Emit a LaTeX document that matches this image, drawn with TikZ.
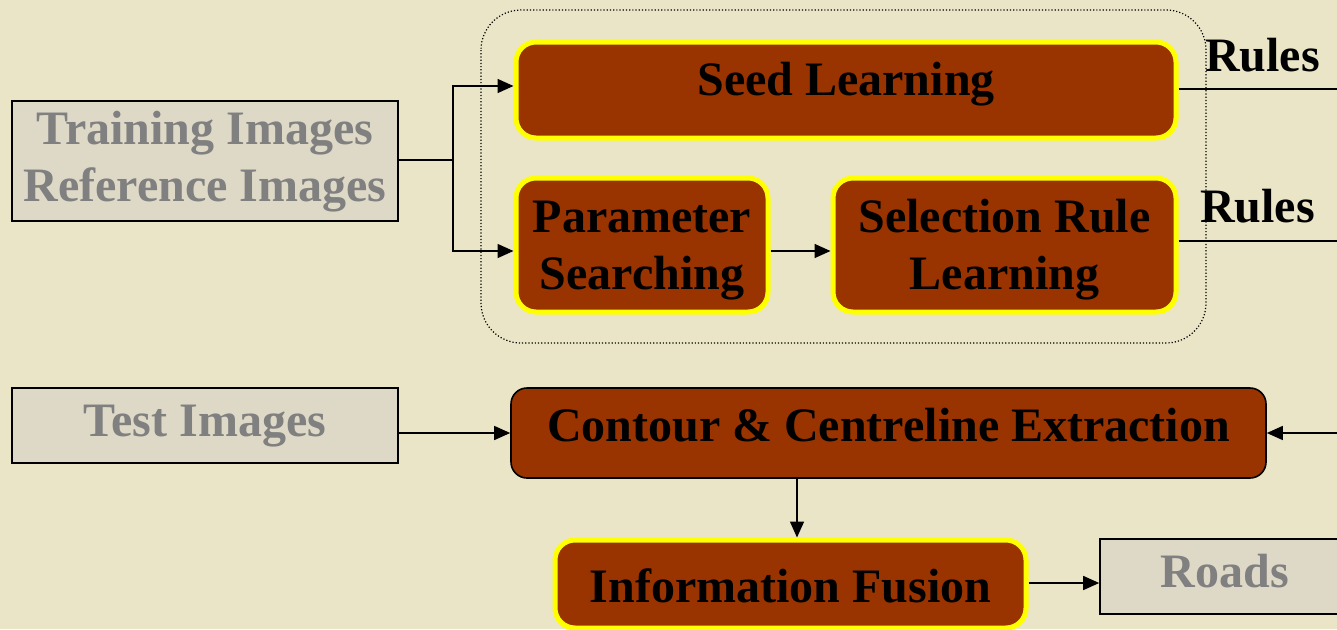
\documentclass[tikz,border=0pt]{standalone}
\usepackage{fontspec}
\setmainfont{Liberation Serif}
\usetikzlibrary{arrows.meta}
\definecolor{paper}{RGB}{234,229,199}
\definecolor{greybox}{RGB}{222,216,198}
\definecolor{greytext}{RGB}{128,128,128}
\definecolor{rust}{RGB}{153,51,0}
\definecolor{hilite}{RGB}{255,255,0}
% invisible struts fixing the first-line height and last-line depth
\newcommand{\tophold}[1]{\rule{0pt}{#1}}
\newcommand{\bothold}[1]{\rule[-#1]{0pt}{#1}}
\begin{document}
\begin{tikzpicture}[x=1pt,y=-1pt,
  txt/.style={font=\fontsize{48}{57}\selectfont\bfseries, align=center},
  inbox/.style={txt, draw=black, line width=1.6pt, fill=greybox, text=greytext, inner sep=0pt},
  hotbox/.style={txt, draw=hilite, line width=5pt, fill=rust, rounded corners=20pt, inner sep=0pt},
  procbox/.style={txt, draw=black, line width=1.6pt, fill=rust, rounded corners=16pt, inner sep=0pt},
  link/.style={draw=black, line width=1.5pt, -{Triangle[length=16pt,width=14pt]}},
  plain/.style={draw=black, line width=1.5pt},
  group/.style={draw=black, line width=1.2pt, dotted, rounded corners=40pt}
]
\fill[paper] (0,0) rectangle (1337,629);
\useasboundingbox (0,0) rectangle (1337,629);

% learning stage
\draw[group] (481,10) rectangle (1206,343);
\node[inbox, minimum width=386pt, minimum height=120pt] (train) at (205,161)
  {\tophold{35pt}Training Images\\Reference Images\bothold{10pt}};
\node[hotbox, minimum width=660pt, minimum height=96pt, text height=33pt, text depth=23pt] (seed) at (846,90) {Seed Learning};
\node[hotbox, minimum width=252pt, minimum height=134pt] (param) at (642,245)
  {\tophold{43pt}Parameter\\Searching\bothold{10pt}};
\node[hotbox, minimum width=343pt, minimum height=134pt] (select) at (1004.5,245)
  {\tophold{43pt}Selection Rule\\Learning\bothold{10pt}};

\coordinate (split) at (453,160);
\draw[plain] (train.east |- split) -- (split);
\draw[link] (split) |- (seed.west |- 0,86);
\draw[link] (split) |- (param.west |- 0,251);
\draw[link] (param.east |- 0,251) -- (select.west |- 0,251);

\coordinate (rulesA) at (1337,89);
\coordinate (rulesB) at (1337,241);
\draw[plain] (seed.east |- rulesA) -- (rulesA);
\draw[plain] (select.east |- rulesB) -- (rulesB);
\node[txt, anchor=base west, inner sep=0pt] (lblA) at (1205,71) {Rules};
\node[txt, anchor=base west, inner sep=0pt] (lblB) at (1200,222) {Rules};

% extraction stage
\node[inbox, minimum width=386pt, minimum height=75pt, text height=33pt, text depth=12pt] (test) at (205,425.5) {Test Images};
\node[procbox, minimum width=755pt, minimum height=90pt, text height=33pt, text depth=17pt] (contour) at (888.5,433) {Contour \& Centreline Extraction};
\node[hotbox, minimum width=471pt, minimum height=88pt, text height=42pt, text depth=6pt] (fusion) at (790.5,584) {Information Fusion};
\node[inbox, minimum width=250pt, minimum height=75pt, text height=33pt, text depth=12pt] (roads) at (1225,576.5) {Roads};

\coordinate (rulesIn) at (1337,433);
\draw[link] (test.east |- 0,433) -- (contour.west |- 0,433);
\draw[link] (rulesIn) -- (contour.east |- rulesIn);
\draw[link] (contour.south -| 797,0) -- (fusion.north -| 797,0);
\draw[link] (fusion.east |- 0,583) -- (roads.west |- 0,583);
\end{tikzpicture}
\end{document}
